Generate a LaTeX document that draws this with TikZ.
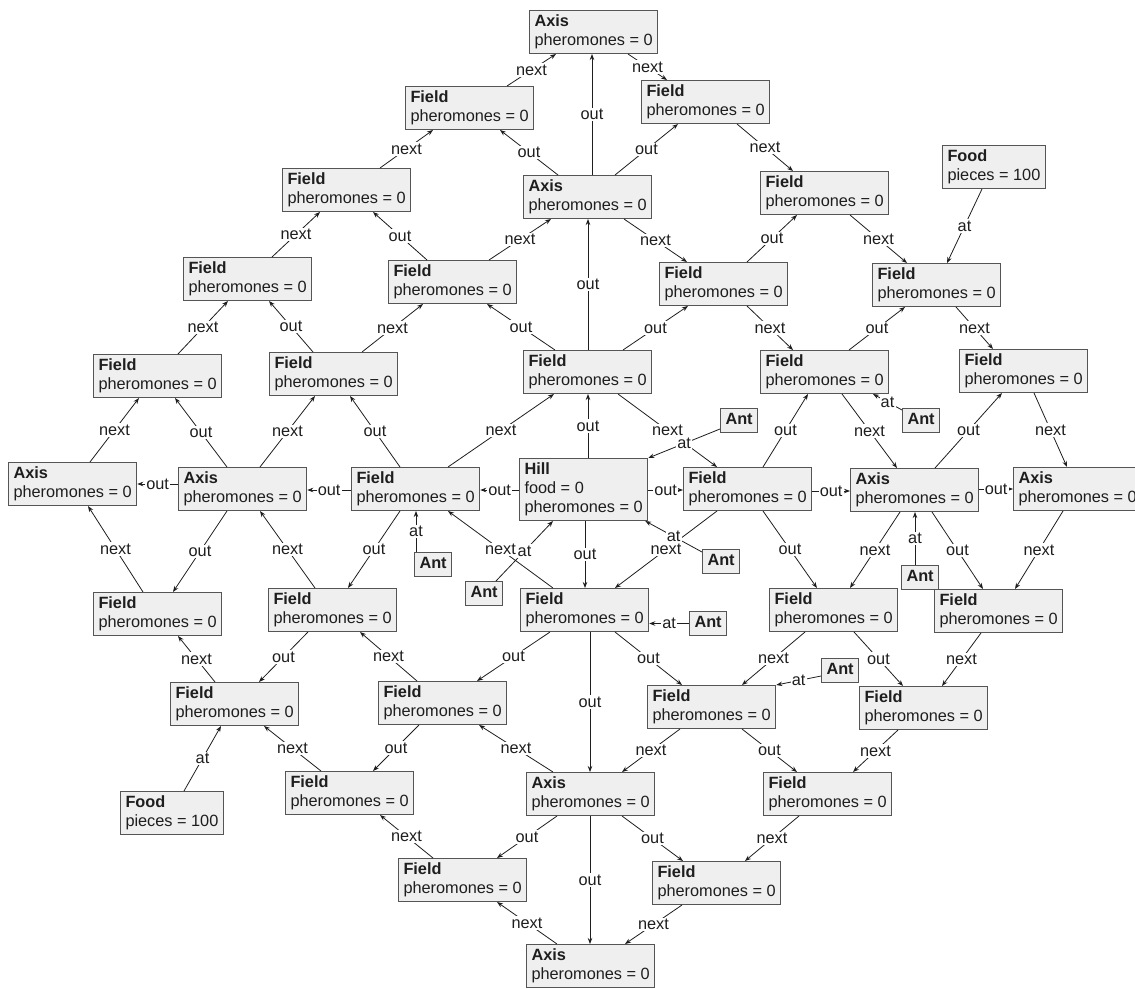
\documentclass[tikz,border=0pt]{standalone}
\usepackage{fontspec}
\setmainfont{Liberation Sans}
\usetikzlibrary{arrows.meta}
\definecolor{boxfill}{RGB}{239,239,239}
\definecolor{boxline}{RGB}{85,85,85}
\definecolor{ink}{RGB}{30,30,30}
\newcommand\objfont{\fontsize{16.3pt}{19pt}\selectfont}
\newcommand\obj[2]{\textbf{#1}\strut\\#2\strut}
\newcommand\fld{\obj{Field}{pheromones = 0}}
\newcommand\axs{\obj{Axis}{pheromones = 0}}
\newcommand\ant{\textbf{Ant}\strut}
\begin{document}
\begin{tikzpicture}[x=1pt,y=-1pt,
  obj/.style={draw=boxline, fill=boxfill, line width=1pt, text=ink, font=\objfont,
    align=left, anchor=north west, inner xsep=5pt, inner ysep=2.5pt},
  rel/.style={draw=ink, line width=0.8pt, -{Stealth[length=6pt,width=4.5pt]}},
  lb/.style={fill=white, text=ink, font=\objfont, inner sep=1.2pt}]
\useasboundingbox (0,0) rectangle (1135,988);

% ---- objects ----
\node[obj] (A0) at (529,10) {\axs};
\node[obj] (F1) at (405,86) {\fld};
\node[obj] (F2) at (641,80) {\fld};
\node[obj] (A1) at (523,175) {\axs};
\node[obj] (F3) at (282,168) {\fld};
\node[obj] (F4) at (760,171) {\fld};
\node[obj] (Food1) at (942,145) {\obj{Food}{pieces = 100}};
\node[obj] (F5) at (183,257) {\fld};
\node[obj] (F6) at (388,260) {\fld};
\node[obj] (F7) at (659,262) {\fld};
\node[obj] (F8) at (872,263) {\fld};
\node[obj] (F9) at (93,354) {\fld};
\node[obj] (F10) at (269,352) {\fld};
\node[obj] (F11) at (523,350) {\fld};
\node[obj] (F12) at (760,350) {\fld};
\node[obj] (F13) at (959,349) {\fld};
\node[obj] (Ant1) at (720,408) {\ant};
\node[obj] (Ant2) at (902,408) {\ant};
\node[obj] (A2) at (8,462) {\axs};
\node[obj] (A3) at (178,467) {\axs};
\node[obj] (F14) at (351,467) {\fld};
\node[obj] (Hill) at (519,458) {\textbf{Hill}\strut\\food = 0\strut\\pheromones = 0\strut};
\node[obj] (F15) at (683,467) {\fld};
\node[obj] (A4) at (850,468) {\axs};
\node[obj] (A5) at (1013,467) {\axs};
\node[obj] (Ant3) at (414,552) {\ant};
\node[obj] (Ant4) at (465,581) {\ant};
\node[obj] (Ant5) at (702,549) {\ant};
\node[obj] (Ant6) at (901,565) {\ant};
\node[obj] (Ant7) at (689,611) {\ant};
\node[obj] (Ant8) at (821,658) {\ant};
\node[obj] (F16) at (93,592) {\fld};
\node[obj] (F17) at (268,588) {\fld};
\node[obj] (F18) at (520,588) {\fld};
\node[obj] (F19) at (769,588) {\fld};
\node[obj] (F20) at (934,589) {\fld};
\node[obj] (F21) at (170,682) {\fld};
\node[obj] (F22) at (378,681) {\fld};
\node[obj] (F23) at (647,685) {\fld};
\node[obj] (F24) at (859,686) {\fld};
\node[obj] (Food2) at (120,791) {\obj{Food}{pieces = 100}};
\node[obj] (F25) at (285,771) {\fld};
\node[obj] (A6) at (526,772) {\axs};
\node[obj] (F26) at (763,772) {\fld};
\node[obj] (F27) at (398,858) {\fld};
\node[obj] (F28) at (652,861) {\fld};
\node[obj] (A7) at (526,944) {\axs};

% ---- next: outer ring ----
\draw[rel] ([xshift=102pt]F1.north west) -- node[lb]{next} ([xshift=27pt]A0.south west);
\draw[rel] ([xshift=99pt]A0.south west) -- node[lb]{next} ([xshift=26pt]F2.north west);
\draw[rel] ([xshift=96pt]F2.south west) -- node[lb]{next} ([xshift=33pt]F4.north west);
\draw[rel] ([xshift=90pt]F4.south west) -- node[lb]{next} ([xshift=35pt]F8.north west);
\draw[rel] ([xshift=84pt]F8.south west) -- node[lb]{next} ([xshift=34pt]F13.north west);
\draw[rel] ([xshift=75pt]F13.south west) -- node[lb]{next} ([xshift=54pt]A5.north west);
\draw[rel] ([xshift=50pt]A5.south west) -- node[lb]{next} ([xshift=81pt]F20.north west);
\draw[rel] ([xshift=47pt]F20.south west) -- node[lb]{next} ([xshift=83pt]F24.north west);
\draw[rel] ([xshift=39pt]F24.south west) -- node[lb]{next} ([xshift=90pt]F26.north west);
\draw[rel] ([xshift=36pt]F26.south west) -- node[lb]{next} ([xshift=93pt]F28.north west);
\draw[rel] ([xshift=30pt]F28.south west) -- node[lb]{next} ([xshift=99pt]A7.north west);
\draw[rel] ([xshift=31pt]A7.north west) -- node[lb]{next} ([xshift=99pt]F27.south west);
\draw[rel] ([xshift=35pt]F27.north west) -- node[lb]{next} ([xshift=95pt]F25.south west);
\draw[rel] ([xshift=36pt]F25.north west) -- node[lb]{next} ([xshift=94pt]F21.south west);
\draw[rel] ([xshift=45pt]F21.north west) -- node[lb]{next} ([xshift=85pt]F16.south west);
\draw[rel] ([xshift=50pt]F16.north west) -- node[lb]{next} ([xshift=80pt]A2.south west);
\draw[rel] ([xshift=82pt]A2.north west) -- node[lb]{next} ([xshift=46pt]F9.south west);
\draw[rel] ([xshift=85pt]F9.north west) -- node[lb]{next} ([xshift=45pt]F5.south west);
\draw[rel] ([xshift=89pt]F5.north west) -- node[lb]{next} ([xshift=38pt]F3.south west);
\draw[rel] ([xshift=98pt]F3.north west) -- node[lb]{next} ([xshift=28pt]F1.south west);

% ---- next: middle ring ----
\draw[rel] ([xshift=93pt]F10.north west) -- node[lb]{next} ([xshift=35pt]F6.south west);
\draw[rel] ([xshift=101pt]F6.north west) -- node[lb]{next} ([xshift=28pt]A1.south west);
\draw[rel] ([xshift=101pt]A1.south west) -- node[lb]{next} ([xshift=28pt]F7.north west);
\draw[rel] ([xshift=88pt]F7.south west) -- node[lb]{next} ([xshift=33pt]F12.north west);
\draw[rel] ([xshift=82pt]F12.south west) -- node[lb]{next} ([xshift=47pt]A4.north west);
\draw[rel] ([xshift=50pt]A4.south west) -- node[lb]{next} ([xshift=81pt]F19.north west);
\draw[rel] ([xshift=36pt]F19.south west) -- node[lb]{next} ([xshift=95pt]F23.north west);
\draw[rel] ([xshift=33pt]F23.south west) -- node[lb]{next} ([xshift=96pt]A6.north west);
\draw[rel] ([xshift=27pt]A6.north west) -- node[lb]{next} ([xshift=101pt]F22.south west);
\draw[rel] ([xshift=39pt]F22.north west) -- node[lb]{next} ([xshift=92pt]F17.south west);
\draw[rel] ([xshift=47pt]F17.north west) -- node[lb]{next} ([xshift=82pt]A3.south west);
\draw[rel] ([xshift=82pt]A3.north west) -- node[lb]{next} ([xshift=46pt]F10.south west);

% ---- next: inner ring ----
\draw[rel] ([xshift=97pt]F14.north west) -- node[lb]{next} ([xshift=31pt]F11.south west);
\draw[rel] ([xshift=95pt]F11.south west) -- node[lb]{next} ([xshift=34pt]F15.north west);
\draw[rel] ([xshift=34pt]F15.south west) -- node[lb]{next} ([xshift=95pt]F18.north west);
\draw[rel] ([xshift=33pt]F18.north west) -- node[lb]{next} ([xshift=97pt]F14.south west);

% ---- out ----
\draw[rel] ([xshift=69pt]A1.north west) -- node[lb]{out} ([xshift=63pt]A0.south west);
\draw[rel] ([xshift=35pt]A1.north west) -- node[lb]{out} ([xshift=95pt]F1.south west);
\draw[rel] ([xshift=92pt]A1.north west) -- node[lb]{out} ([xshift=37pt]F2.south west);
\draw[rel] ([xshift=39pt]F6.north west) -- node[lb]{out} ([xshift=91pt]F3.south west);
\draw[rel] ([xshift=88pt]F7.north west) -- node[lb]{out} ([xshift=37pt]F4.south west);
\draw[rel] ([xshift=44pt]F10.north west) -- node[lb]{out} ([xshift=86pt]F5.south west);
\draw[rel] ([xshift=32pt]F11.north west) -- node[lb]{out} ([xshift=99pt]F6.south west);
\draw[rel] ([xshift=65pt]F11.north west) -- node[lb]{out} ([xshift=65pt]A1.south west);
\draw[rel] ([xshift=100pt]F11.north west) -- node[lb]{out} ([xshift=29pt]F7.south west);
\draw[rel] ([xshift=89pt]F12.north west) -- node[lb]{out} ([xshift=33pt]F8.south west);
\draw[rel] ([xshift=49pt]A3.north west) -- node[lb]{out} ([xshift=82pt]F9.south west);
\draw[rel] ([xshift=49pt]F14.north west) -- node[lb]{out} ([xshift=81pt]F10.south west);
\draw[rel] ([xshift=69pt]Hill.north west) -- node[lb]{out} ([xshift=65pt]F11.south west);
\draw[rel] ([xshift=80pt]F15.north west) -- node[lb]{out} ([xshift=48pt]F12.south west);
\draw[rel] ([xshift=85pt]A4.north west) -- node[lb]{out} ([xshift=43pt]F13.south west);

\draw[rel] ([yshift=-17pt]A3.north west) -- node[lb]{out} ([yshift=-22pt]A2.north east);
\draw[rel] ([yshift=-23pt]F14.north west) -- node[lb]{out} ([yshift=-23pt]A3.north east);
\draw[rel] ([yshift=-32pt]Hill.north west) -- node[lb]{out} ([yshift=-23pt]F14.north east);
\draw[rel] ([yshift=-32pt]Hill.north east) -- node[lb]{out} ([yshift=-23pt]F15.north west);
\draw[rel] ([yshift=-24pt]F15.north east) -- node[lb]{out} ([yshift=-23pt]A4.north west);
\draw[rel] ([yshift=-21pt]A4.north east) -- node[lb]{out} ([yshift=-22pt]A5.north west);

\draw[rel] ([xshift=49pt]A3.south west) -- node[lb]{out} ([xshift=80pt]F16.north west);
\draw[rel] ([xshift=49pt]F14.south west) -- node[lb]{out} ([xshift=80pt]F17.north west);
\draw[rel] ([xshift=66pt]Hill.south west) -- node[lb]{out} ([xshift=65pt]F18.north west);
\draw[rel] ([xshift=80pt]F15.south west) -- node[lb]{out} ([xshift=48pt]F19.north west);
\draw[rel] ([xshift=82pt]A4.south west) -- node[lb]{out} ([xshift=49pt]F20.north west);
\draw[rel] ([xshift=40pt]F17.south west) -- node[lb]{out} ([xshift=89pt]F21.north west);
\draw[rel] ([xshift=30pt]F18.south west) -- node[lb]{out} ([xshift=99pt]F22.north west);
\draw[rel] ([xshift=70pt]F18.south west) -- node[lb]{out} ([xshift=64pt]A6.north west);
\draw[rel] ([xshift=95pt]F18.south west) -- node[lb]{out} ([xshift=35pt]F23.north west);
\draw[rel] ([xshift=85pt]F19.south west) -- node[lb]{out} ([xshift=44pt]F24.north west);
\draw[rel] ([xshift=41pt]F22.south west) -- node[lb]{out} ([xshift=88pt]F25.north west);
\draw[rel] ([xshift=95pt]F23.south west) -- node[lb]{out} ([xshift=34pt]F26.north west);
\draw[rel] ([xshift=31pt]A6.south west) -- node[lb]{out} ([xshift=99pt]F27.north west);
\draw[rel] ([xshift=64pt]A6.south west) -- node[lb]{out} ([xshift=64pt]A7.north west);
\draw[rel] ([xshift=96pt]A6.south west) -- node[lb]{out} ([xshift=31pt]F28.north west);

% ---- at ----
\draw[rel] ([xshift=40pt]Food1.south west) -- node[lb]{at} ([xshift=75pt]F8.north west);
\draw[rel] ([xshift=64pt]Food2.north west) -- node[lb]{at} ([xshift=51pt]F21.south west);
\draw[rel] ([yshift=-21pt]Ant1.north west) -- node[lb]{at} (Hill.north east);
\draw[rel] ([yshift=-2pt]Ant2.north west) -- node[lb]{at} ([xshift=113pt]F12.south west);
\draw[rel] ([xshift=2pt]Ant3.north west) -- node[lb]{at} ([xshift=65pt]F14.south west);
\draw[rel] ([xshift=31pt]Ant4.north west) -- node[lb]{at} ([xshift=34pt]Hill.south west);
\draw[rel] ([yshift=-3pt]Ant5.north west) -- node[lb]{at} ([xshift=-3pt]Hill.south east);
\draw[rel] ([xshift=14pt]Ant6.north west) -- node[lb]{at} ([xshift=65pt]A4.south west);
\draw[rel] (Ant7.west) -- node[lb]{at} ([yshift=-35.5pt]F18.north east);
\draw[rel] ([yshift=-18pt]Ant8.north west) -- node[lb]{at} (F23.north east);
\end{tikzpicture}
\end{document}
